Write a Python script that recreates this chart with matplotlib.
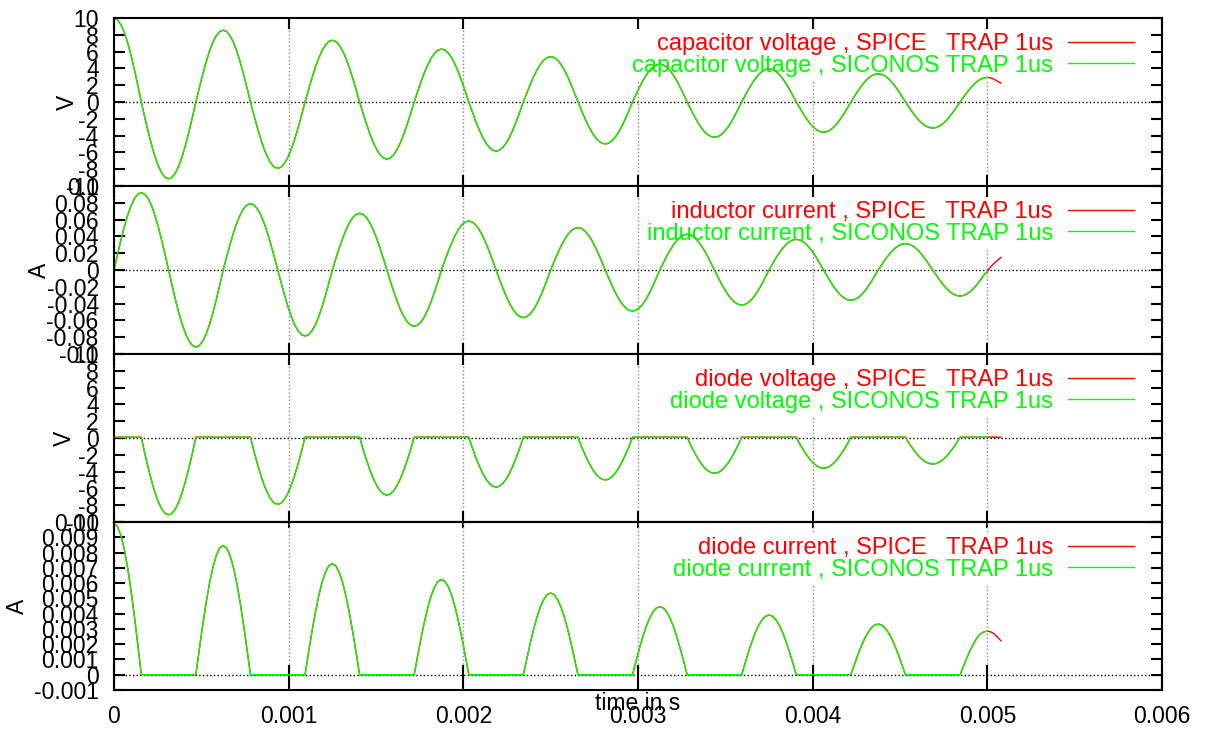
import numpy as np
import matplotlib.pyplot as plt

plt.rcParams['font.family'] = ['Liberation Sans', 'DejaVu Sans']
plt.rcParams['font.size'] = 16.5

# samples every T/32 (T = 0.625 ms), from t = 0 to t = 0.005 s
dt = 0.005 / 256

cap_v = [
    10, 9.81, 9.24, 8.32, 7.07, 5.56, 3.83, 1.95, 0, -1.79, -3.50, -5.08, -6.47, -7.61, -8.45, -8.97,
    -9.15, -8.97, -8.45, -7.61, -6.47, -5.08, -3.50, -1.79, 0, 1.67, 3.27, 4.75, 6.05, 7.11, 7.90, 8.39,
    8.55, 8.39, 7.90, 7.11, 6.05, 4.75, 3.27, 1.67, 0, -1.54, -3.02, -4.39, -5.59, -6.57, -7.30, -7.75,
    -7.90, -7.75, -7.30, -6.57, -5.59, -4.39, -3.02, -1.54, 0, 1.43, 2.81, 4.08, 5.20, 6.11, 6.79, 7.21,
    7.35, 7.21, 6.79, 6.11, 5.20, 4.08, 2.81, 1.43, 0, -1.33, -2.60, -3.78, -4.81, -5.65, -6.28, -6.67,
    -6.80, -6.67, -6.28, -5.65, -4.81, -3.78, -2.60, -1.33, 0, 1.23, 2.41, 3.50, 4.45, 5.24, 5.82, 6.18,
    6.30, 6.18, 5.82, 5.24, 4.45, 3.50, 2.41, 1.23, 0, -1.14, -2.24, -3.25, -4.14, -4.86, -5.40, -5.74,
    -5.85, -5.74, -5.40, -4.86, -4.14, -3.25, -2.24, -1.14, 0, 1.05, 2.07, 3.00, 3.82, 4.49, 4.99, 5.30,
    5.40, 5.30, 4.99, 4.49, 3.82, 3.00, 2.07, 1.05, 0, -0.98, -1.91, -2.78, -3.54, -4.16, -4.62, -4.90,
    -5.00, -4.90, -4.62, -4.16, -3.54, -2.78, -1.91, -0.98, 0, 0.88, 1.72, 2.50, 3.18, 3.74, 4.16, 4.41,
    4.50, 4.41, 4.16, 3.74, 3.18, 2.50, 1.72, 0.88, 0, -0.82, -1.61, -2.33, -2.97, -3.49, -3.88, -4.12,
    -4.20, -4.12, -3.88, -3.49, -2.97, -2.33, -1.61, -0.82, 0, 0.77, 1.51, 2.19, 2.79, 3.28, 3.65, 3.87,
    3.95, 3.87, 3.65, 3.28, 2.79, 2.19, 1.51, 0.77, 0, -0.70, -1.38, -2.00, -2.55, -2.99, -3.33, -3.53,
    -3.60, -3.53, -3.33, -2.99, -2.55, -2.00, -1.38, -0.70, 0, 0.65, 1.28, 1.86, 2.37, 2.79, 3.10, 3.29,
    3.35, 3.29, 3.10, 2.79, 2.37, 1.86, 1.28, 0.65, 0, -0.60, -1.19, -1.72, -2.19, -2.58, -2.86, -3.04,
    -3.10, -3.04, -2.86, -2.58, -2.19, -1.72, -1.19, -0.60, 0, 0.57, 1.12, 1.63, 2.07, 2.44, 2.71, 2.87,
    2.93,
]
cap_v_spice_end = [2.87, 2.71, 2.48, 2.25]

ind_i = [
    0, 0.0180, 0.0352, 0.0512, 0.0651, 0.0766, 0.0851, 0.0903, 0.0921, 0.0903, 0.0851, 0.0766, 0.0651, 0.0512, 0.0352, 0.0180,
    0, -0.0179, -0.0351, -0.0509, -0.0648, -0.0762, -0.0847, -0.0899, -0.0917, -0.0899, -0.0847, -0.0762, -0.0648, -0.0509, -0.0351, -0.0179,
    0, 0.0154, 0.0302, 0.0439, 0.0559, 0.0657, 0.0730, 0.0775, 0.0790, 0.0775, 0.0730, 0.0657, 0.0559, 0.0439, 0.0302, 0.0154,
    0, -0.0153, -0.0301, -0.0437, -0.0556, -0.0654, -0.0726, -0.0771, -0.0786, -0.0771, -0.0726, -0.0654, -0.0556, -0.0437, -0.0301, -0.0153,
    0, 0.0132, 0.0258, 0.0375, 0.0477, 0.0561, 0.0624, 0.0662, 0.0675, 0.0662, 0.0624, 0.0561, 0.0477, 0.0375, 0.0258, 0.0132,
    0, -0.0131, -0.0256, -0.0372, -0.0474, -0.0557, -0.0619, -0.0657, -0.0670, -0.0657, -0.0619, -0.0557, -0.0474, -0.0372, -0.0256, -0.0131,
    0, 0.0114, 0.0223, 0.0324, 0.0412, 0.0485, 0.0539, 0.0572, 0.0583, 0.0572, 0.0539, 0.0485, 0.0412, 0.0324, 0.0223, 0.0114,
    0, -0.0111, -0.0217, -0.0315, -0.0401, -0.0471, -0.0524, -0.0556, -0.0567, -0.0556, -0.0524, -0.0471, -0.0401, -0.0315, -0.0217, -0.0111,
    0, 0.0099, 0.0193, 0.0281, 0.0357, 0.0420, 0.0467, 0.0495, 0.0505, 0.0495, 0.0467, 0.0420, 0.0357, 0.0281, 0.0193, 0.0099,
    0, -0.0095, -0.0187, -0.0271, -0.0345, -0.0406, -0.0451, -0.0479, -0.0488, -0.0479, -0.0451, -0.0406, -0.0345, -0.0271, -0.0187, -0.0095,
    0, 0.0083, 0.0163, 0.0236, 0.0301, 0.0353, 0.0393, 0.0417, 0.0425, 0.0417, 0.0393, 0.0353, 0.0301, 0.0236, 0.0163, 0.0083,
    0, -0.0081, -0.0160, -0.0232, -0.0295, -0.0347, -0.0385, -0.0409, -0.0417, -0.0409, -0.0385, -0.0347, -0.0295, -0.0232, -0.0160, -0.0081,
    0, 0.0071, 0.0140, 0.0203, 0.0258, 0.0303, 0.0337, 0.0358, 0.0365, 0.0358, 0.0337, 0.0303, 0.0258, 0.0203, 0.0140, 0.0071,
    0, -0.0070, -0.0138, -0.0200, -0.0255, -0.0299, -0.0333, -0.0353, -0.0360, -0.0353, -0.0333, -0.0299, -0.0255, -0.0200, -0.0138, -0.0070,
    0, 0.0061, 0.0120, 0.0174, 0.0222, 0.0261, 0.0290, 0.0308, 0.0314, 0.0308, 0.0290, 0.0261, 0.0222, 0.0174, 0.0120, 0.0061,
    0, -0.0060, -0.0119, -0.0172, -0.0219, -0.0258, -0.0286, -0.0304, -0.0310, -0.0304, -0.0286, -0.0258, -0.0219, -0.0172, -0.0119, -0.0060,
    -0.002,
]
ind_i_spice_end = [0.004, 0.008, 0.0115, 0.015]

diode_v = [
    0.1, 0.1, 0.1, 0.1, 0.1, 0.1, 0.1, 0.1, 0.1, -1.79, -3.50, -5.08, -6.47, -7.61, -8.45, -8.97,
    -9.15, -8.97, -8.45, -7.61, -6.47, -5.08, -3.50, -1.79, 0.1, 0.1, 0.1, 0.1, 0.1, 0.1, 0.1, 0.1,
    0.1, 0.1, 0.1, 0.1, 0.1, 0.1, 0.1, 0.1, 0.1, -1.54, -3.02, -4.39, -5.59, -6.57, -7.30, -7.75,
    -7.90, -7.75, -7.30, -6.57, -5.59, -4.39, -3.02, -1.54, 0.1, 0.1, 0.1, 0.1, 0.1, 0.1, 0.1, 0.1,
    0.1, 0.1, 0.1, 0.1, 0.1, 0.1, 0.1, 0.1, 0.1, -1.33, -2.60, -3.78, -4.81, -5.65, -6.28, -6.67,
    -6.80, -6.67, -6.28, -5.65, -4.81, -3.78, -2.60, -1.33, 0.1, 0.1, 0.1, 0.1, 0.1, 0.1, 0.1, 0.1,
    0.1, 0.1, 0.1, 0.1, 0.1, 0.1, 0.1, 0.1, 0.1, -1.14, -2.24, -3.25, -4.14, -4.86, -5.40, -5.74,
    -5.85, -5.74, -5.40, -4.86, -4.14, -3.25, -2.24, -1.14, 0.1, 0.1, 0.1, 0.1, 0.1, 0.1, 0.1, 0.1,
    0.1, 0.1, 0.1, 0.1, 0.1, 0.1, 0.1, 0.1, 0.1, -0.98, -1.91, -2.78, -3.54, -4.16, -4.62, -4.90,
    -5.00, -4.90, -4.62, -4.16, -3.54, -2.78, -1.91, -0.98, 0.1, 0.1, 0.1, 0.1, 0.1, 0.1, 0.1, 0.1,
    0.1, 0.1, 0.1, 0.1, 0.1, 0.1, 0.1, 0.1, 0.1, -0.82, -1.61, -2.33, -2.97, -3.49, -3.88, -4.12,
    -4.20, -4.12, -3.88, -3.49, -2.97, -2.33, -1.61, -0.82, 0.1, 0.1, 0.1, 0.1, 0.1, 0.1, 0.1, 0.1,
    0.1, 0.1, 0.1, 0.1, 0.1, 0.1, 0.1, 0.1, 0.1, -0.70, -1.38, -2.00, -2.55, -2.99, -3.33, -3.53,
    -3.60, -3.53, -3.33, -2.99, -2.55, -2.00, -1.38, -0.70, 0.1, 0.1, 0.1, 0.1, 0.1, 0.1, 0.1, 0.1,
    0.1, 0.1, 0.1, 0.1, 0.1, 0.1, 0.1, 0.1, 0.1, -0.60, -1.19, -1.72, -2.19, -2.58, -2.86, -3.04,
    -3.10, -3.04, -2.86, -2.58, -2.19, -1.72, -1.19, -0.60, 0.1, 0.1, 0.1, 0.1, 0.1, 0.1, 0.1, 0.1,
    0.1,
]
diode_v_spice_end = [0.1, 0.1, 0.1, 0.1]
diode_v_siconos_start = [10]

diode_i = [
    0.00990, 0.00971, 0.00915, 0.00823, 0.00700, 0.00550, 0.00379, 0.00193, 0, 0, 0, 0, 0, 0, 0, 0,
    0, 0, 0, 0, 0, 0, 0, 0, 0, 0.00165, 0.00324, 0.00470, 0.00599, 0.00704, 0.00782, 0.00830,
    0.00846, 0.00830, 0.00782, 0.00704, 0.00599, 0.00470, 0.00324, 0.00165, 0, 0, 0, 0, 0, 0, 0, 0,
    0, 0, 0, 0, 0, 0, 0, 0, 0, 0.00142, 0.00278, 0.00404, 0.00515, 0.00605, 0.00672, 0.00714,
    0.00728, 0.00714, 0.00672, 0.00605, 0.00515, 0.00404, 0.00278, 0.00142, 0, 0, 0, 0, 0, 0, 0, 0,
    0, 0, 0, 0, 0, 0, 0, 0, 0, 0.00122, 0.00239, 0.00347, 0.00441, 0.00519, 0.00576, 0.00612,
    0.00624, 0.00612, 0.00576, 0.00519, 0.00441, 0.00347, 0.00239, 0.00122, 0, 0, 0, 0, 0, 0, 0, 0,
    0, 0, 0, 0, 0, 0, 0, 0, 0, 0.00104, 0.00205, 0.00297, 0.00378, 0.00445, 0.00494, 0.00525,
    0.00535, 0.00525, 0.00494, 0.00445, 0.00378, 0.00297, 0.00205, 0.00104, 0, 0, 0, 0, 0, 0, 0, 0,
    0, 0, 0, 0, 0, 0, 0, 0, 0, 0.00087, 0.00170, 0.00248, 0.00315, 0.00370, 0.00412, 0.00437,
    0.00446, 0.00437, 0.00412, 0.00370, 0.00315, 0.00248, 0.00170, 0.00087, 0, 0, 0, 0, 0, 0, 0, 0,
    0, 0, 0, 0, 0, 0, 0, 0, 0, 0.00076, 0.00149, 0.00217, 0.00276, 0.00325, 0.00361, 0.00383,
    0.00391, 0.00383, 0.00361, 0.00325, 0.00276, 0.00217, 0.00149, 0.00076, 0, 0, 0, 0, 0, 0, 0, 0,
    0, 0, 0, 0, 0, 0, 0, 0, 0, 0.00064, 0.00127, 0.00184, 0.00235, 0.00276, 0.00307, 0.00326,
    0.00332, 0.00326, 0.00307, 0.00276, 0.00235, 0.00184, 0.00127, 0.00064, 0, 0, 0, 0, 0, 0, 0, 0,
    0, 0, 0, 0, 0, 0, 0, 0, 0, 0.00056, 0.00111, 0.00161, 0.00205, 0.00242, 0.00268, 0.00281,
    0.00285,
]
diode_i_spice_end = [0.00281, 0.00268, 0.00245, 0.00222]
diode_i_siconos_start = [0]

names = ["capacitor voltage", "inductor current", "diode voltage", "diode current"]
units = ["V", "A", "V", "A"]

x_ticks = [0, 0.001, 0.002, 0.003, 0.004, 0.005, 0.006]
x_tick_labels = ["0", "0.001", "0.002", "0.003", "0.004", "0.005", "0.006"]
v_ticks = [-10, -8, -6, -4, -2, 0, 2, 4, 6, 8, 10]
v_tick_labels = ["-10", "-8", "-6", "-4", "-2", "0", "2", "4", "6", "8", "10"]
i_ticks = [-0.1, -0.08, -0.06, -0.04, -0.02, 0, 0.02, 0.04, 0.06, 0.08, 0.1]
i_tick_labels = ["-0.1", "-0.08", "-0.06", "-0.04", "-0.02", "0",
                 "0.02", "0.04", "0.06", "0.08", "0.1"]
id_ticks = [-0.001, 0, 0.001, 0.002, 0.003, 0.004, 0.005, 0.006, 0.007, 0.008, 0.009, 0.01]
id_tick_labels = ["-0.001", "0", "0.001", "0.002", "0.003", "0.004", "0.005",
                  "0.006", "0.007", "0.008", "0.009", "0.01"]

panels = [
    (cap_v, [], cap_v_spice_end, v_ticks, v_tick_labels, (-10, 10), -0.0445),
    (ind_i, [], ind_i_spice_end, i_ticks, i_tick_labels, (-0.1, 0.1), -0.0712),
    (diode_v, diode_v_siconos_start, diode_v_spice_end, v_ticks, v_tick_labels, (-10, 10), -0.0472),
    (diode_i, diode_i_siconos_start, diode_i_spice_end, id_ticks, id_tick_labels, (-0.001, 0.01), -0.0922),
]

W, H = 1205, 729
left, right = 114, 1162
tops = [18, 186, 354, 522]
ph = 168

fig = plt.figure(figsize=(W / 100, H / 100), dpi=100)

for k, (vals, sic_start, spice_end, yt, ytl, ylim, ylab_x) in enumerate(panels):
    ax = fig.add_axes([left / W, 1 - (tops[k] + ph) / H, (right - left) / W, ph / H])

    spice = vals + spice_end
    t_spice = np.arange(len(spice)) * dt
    siconos = sic_start + vals
    t_siconos = np.concatenate([np.zeros(len(sic_start)), np.arange(len(vals)) * dt])

    l1, = ax.plot(t_spice, spice, color='#ff0000', lw=1.0, zorder=3)
    l2, = ax.plot(t_siconos, siconos, color='#00ff00', lw=1.0, zorder=4)

    ax.set_xlim(0, 0.006)
    ax.set_ylim(*ylim)
    ax.set_xticks(x_ticks)
    ax.set_yticks(yt)
    ax.set_yticklabels(ytl)

    ax.set_axisbelow(True)
    ax.grid(True, axis='x', color='#888888', linestyle=':', lw=1.0)
    ax.axhline(0, color='black', linestyle=':', lw=1.0, zorder=0.8)

    for s in ax.spines.values():
        s.set_linewidth(1.5)
        s.set_zorder(5)

    ax.tick_params(axis='y', direction='in', left=True, right=True,
                   length=8, width=1.5, pad=11)
    if k < 3:
        ax.tick_params(axis='x', direction='in', top=True, bottom=True,
                       length=8, width=1.5, labelbottom=False)
    else:
        ax.tick_params(axis='x', direction='in', top=False, bottom=True,
                       length=18, width=1.5, pad=11)
        ax.set_xticklabels(x_tick_labels)
        sec = ax.secondary_xaxis('top')
        sec.set_xticks(x_ticks)
        sec.tick_params(direction='in', length=4.5, width=1.5, labeltop=False)
        sec.spines['top'].set_linewidth(1.5)
        ax.set_xlabel("time in s")
        ax.xaxis.set_label_coords(0.5, -0.08)
        ax.xaxis.label.set_verticalalignment('center')

    ax.set_ylabel(units[k])
    ax.yaxis.set_label_coords(ylab_x, 0.5)
    ax.yaxis.label.set_verticalalignment('center')

    leg = ax.legend([l1, l2],
                    [names[k] + " , SPICE   TRAP 1us", names[k] + " , SICONOS TRAP 1us"],
                    loc='upper right', bbox_to_anchor=(0.978, 0.936),
                    markerfirst=False, labelcolor='linecolor', fontsize=17,
                    handlelength=2.8, handletextpad=0.64, labelspacing=-0.04,
                    borderpad=0.2, borderaxespad=0, frameon=True,
                    fancybox=False, framealpha=1.0)
    leg.get_frame().set_edgecolor('none')
    leg.set_zorder(2)

fig.savefig("out.png", dpi=100)
